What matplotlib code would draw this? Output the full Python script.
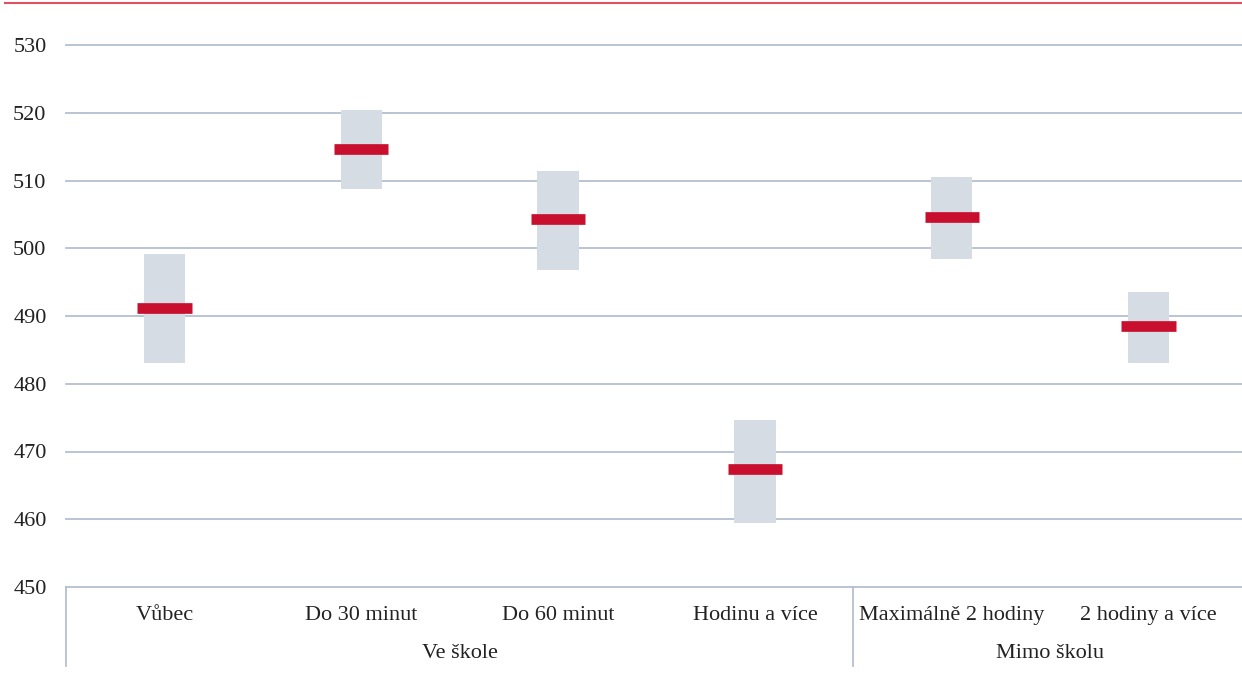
import numpy as np
import matplotlib
matplotlib.use("Agg")
from matplotlib import pyplot as plt

# values
categories = ["Vůbec", "Do 30 minut", "Do 60 minut", "Hodinu a více",
              "Maximálně 2 hodiny", "2 hodiny a více"]
groups = ["Ve škole", "Mimo školu"]
group_sizes = [4, 2]
low = [483.1, 508.8, 496.8, 459.5, 498.4, 483.0]
high = [499.1, 520.4, 511.4, 474.6, 510.5, 493.5]
mean = [491.2, 514.6, 504.3, 467.4, 504.6, 488.5]
yticks = [450, 460, 470, 480, 490, 500, 510, 520, 530]

box_color = "#D6DCE4"
mean_color = "#C8102E"
grid_color = "#B4BFCF"

plt.rcParams['font.family'] = ['Liberation Serif', 'DejaVu Serif']

fig = plt.figure(figsize=(12.42, 6.77), dpi=100)
ax = fig.add_axes([66 / 1242, 90 / 677, 1181 / 1242, 542 / 677])

x = np.arange(len(categories))
ax.bar(x, np.array(high) - np.array(low), bottom=low, width=0.21,
       color=box_color, zorder=2)
ax.hlines(mean, x - 0.138, x + 0.138, colors=mean_color, lw=7.7, zorder=3)

ax.set_xlim(-0.5, len(categories) - 0.5)
ax.set_ylim(450, 530)
ax.set_yticks(yticks)
ax.tick_params(axis='y', length=0, labelsize=16, pad=14, colors='#222222')
ax.set_xticks([])
for y in yticks[1:]:
    ax.axhline(y, color=grid_color, lw=1.3, zorder=1, clip_on=False)

for s in ['top', 'right', 'left']:
    ax.spines[s].set_visible(False)
ax.spines['bottom'].set_color(grid_color)
ax.spines['bottom'].set_linewidth(1.3)

# multi-level category axis
trans = ax.get_xaxis_transform()
for i, c in enumerate(categories):
    ax.text(i, -0.052, c, transform=trans, ha='center', va='center',
            fontsize=16, color='#222222')
start = -0.5
for g, n in zip(groups, group_sizes):
    ax.text(start + n / 2, -0.122, g, transform=trans, ha='center',
            va='center', fontsize=16, color='#222222')
    ax.plot([start, start], [0, -0.145], transform=trans, color=grid_color,
            lw=1.3, clip_on=False)
    start += n

# red rule at top of figure
fig.add_artist(plt.Line2D([5 / 1242, 1], [1 - 3 / 677, 1 - 3 / 677],
                          color="#E0505F", lw=1.5))

fig.savefig("out.png", dpi=100)
